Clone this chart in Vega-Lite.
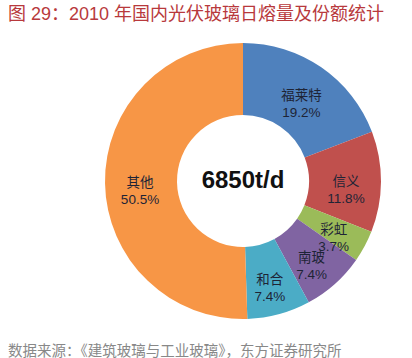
{
  "$schema": "https://vega.github.io/schema/vega-lite/v6.json",
  "width": 338,
  "height": 354,
  "autosize": {"type": "none"},
  "padding": {"left": 74, "top": 4, "right": 0, "bottom": 0},
  "background": "white",
  "title": {
    "text": "图 29：2010 年国内光伏玻璃日熔量及份额统计",
    "subtitle": "数据来源：《建筑玻璃与工业玻璃》，东方证券研究所",
    "anchor": "start",
    "frame": "group",
    "orient": "top",
    "dx": -66,
    "offset": -354,
    "font": "Liberation Sans, Noto Sans CJK SC",
    "fontSize": 18,
    "fontWeight": "normal",
    "color": "#b8393c",
    "subtitleFont": "Liberation Sans, Noto Sans CJK SC",
    "subtitleFontSize": 14.5,
    "subtitleColor": "#888888",
    "subtitlePadding": 321
  },
  "data": {
    "values": [
      {"name": "福莱特", "pct": 19.2, "order": 1, "label": "福莱特\n19.2%"},
      {"name": "信义", "pct": 11.8, "order": 2, "label": "信义\n11.8%"},
      {"name": "彩虹", "pct": 3.7, "order": 3, "label": "彩虹\n3.7%"},
      {"name": "南玻", "pct": 7.4, "order": 4, "label": "南玻\n7.4%"},
      {"name": "和合", "pct": 7.4, "order": 5, "label": "和合\n7.4%"},
      {"name": "其他", "pct": 50.5, "order": 6, "label": "其他\n50.5%"}
    ]
  },
  "layer": [
    {
      "mark": {"type": "arc", "innerRadius": 66, "outerRadius": 138},
      "encoding": {
        "theta": {"field": "pct", "type": "quantitative", "stack": true},
        "order": {"field": "order", "type": "quantitative"},
        "color": {
          "field": "name",
          "type": "nominal",
          "legend": null,
          "scale": {
            "domain": ["福莱特", "信义", "彩虹", "南玻", "和合", "其他"],
            "range": ["#4f81bd", "#c0504d", "#9bbb59", "#8064a2", "#4bacc6", "#f79646"]
          }
        }
      }
    },
    {
      "mark": {
        "type": "text",
        "radius": 103,
        "font": "Liberation Sans, Noto Sans CJK SC",
        "fontSize": 13.5,
        "lineBreak": "\n",
        "lineHeight": 17,
        "color": "#1e2436",
        "align": "center",
        "baseline": "middle"
      },
      "encoding": {
        "theta": {"field": "pct", "type": "quantitative", "stack": true},
        "order": {"field": "order", "type": "quantitative"},
        "text": {"field": "label", "type": "nominal"}
      }
    },
    {
      "data": {"values": [{"total": "6850t/d"}]},
      "mark": {
        "type": "text",
        "font": "Liberation Sans",
        "fontSize": 24,
        "fontWeight": "bold",
        "color": "#111111",
        "align": "center",
        "baseline": "middle"
      },
      "encoding": {
        "text": {"field": "total", "type": "nominal"}
      }
    }
  ]
}
